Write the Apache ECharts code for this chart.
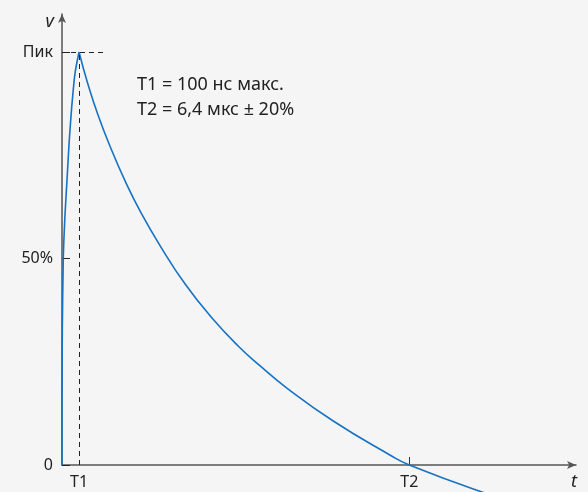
<!DOCTYPE html>
<html>
<head>
<meta charset="utf-8">
<script src="https://cdn.jsdelivr.net/npm/echarts@6/dist/echarts.min.js"></script>
<style>
html,body{margin:0;padding:0;background:#f5f5f5;}
#c{width:588px;height:492px;}
</style>
</head>
<body>
<div id="c"></div>
<script>
// x in % of T2, y in % of peak
const T1 = 4.9;
const T2 = 100;
const PEAK = 100;
const xTickValues = [T1, T2];
const xTickLabels = ['T1', 'T2'];
const yTickValues = [0, 50, 100];
const yTickLabels = ['0', '50%', 'Пик'];
const peakDashEnd = 12.4;

const riseX = [0, 0, 0.09, 0.37, 0.86, 1.44, 2.1, 2.8, 3.75, 4.9];
const riseY = [0, 15.7, 32.7, 50.1, 60.5, 69, 78.7, 86.7, 94.9, 100];

const decayX = [4.9, 7.49, 10.37, 14.12, 18.16, 22.77, 28.53, 35.45, 42.94, 50.72, 57.06, 64.84, 78.1, 94.52, 100, 121.33, 132];
const decayY = [100, 92.15, 84.77, 76.59, 68.79, 61.04, 52.71, 43.83, 35.84, 28.81, 23.99, 18.57, 10.65, 2.37, 0, -6.66, -9.4];

const noteLines = ['T1 = 100 нс макс.', 'T2 = 6,4 мкс ± 20%'];

const FONT = 'Noto Sans';
const LINE = '#1572c4';

const chart = echarts.init(document.getElementById('c'));
chart.setOption({
  backgroundColor: '#f5f5f5',
  animation: false,
  textStyle: {fontFamily: FONT},
  grid: {left: 62, right: 12, top: 14, bottom: 27, containLabel: false},
  xAxis: {
    type: 'value', min: 0, max: 148,
    name: 't', nameLocation: 'end', nameGap: -2,
    nameTextStyle: {fontStyle: 'italic', fontSize: 18, color: '#222', align: 'center', verticalAlign: 'top', padding: [8, 0, 0, 0], fontFamily: FONT},
    axisLine: {show: true, onZero: true, symbol: ['none', 'arrow'], symbolSize: [6, 9], lineStyle: {color: '#555', width: 1.5}},
    axisTick: {show: true, inside: true, length: 8, customValues: [T2], lineStyle: {color: '#333', width: 1}},
    axisLabel: {
      customValues: xTickValues, margin: 9, fontSize: 16, color: '#222', fontFamily: FONT,
      formatter: v => { const i = xTickValues.indexOf(v); return i >= 0 ? xTickLabels[i] : ''; }
    },
    splitLine: {show: false}
  },
  yAxis: {
    type: 'value', min: 0, max: 109.2,
    name: 'v', nameLocation: 'end', nameGap: -8,
    nameTextStyle: {fontStyle: 'italic', fontSize: 18, color: '#222', align: 'right', verticalAlign: 'middle', padding: [0, 8, 0, 0], fontFamily: FONT},
    axisLine: {show: true, symbol: ['none', 'arrow'], symbolSize: [6, 9], lineStyle: {color: '#555', width: 1.5}},
    axisTick: {show: true, inside: true, length: 8, customValues: yTickValues, lineStyle: {color: '#222', width: 1}},
    axisLabel: {
      customValues: yTickValues, margin: 9, fontSize: 16, color: '#222', fontFamily: FONT,
      formatter: v => { const i = yTickValues.indexOf(v); return i >= 0 ? yTickLabels[i] : ''; }
    },
    splitLine: {show: false}
  },
  graphic: [{
    type: 'text', left: 137, top: 72,
    style: {text: noteLines.join('\n'), font: '18px "Noto Sans"', fill: '#222', lineHeight: 25}
  }],
  series: [
    {
      type: 'line', data: riseX.map((x, i) => [x, riseY[i]]),
      smooth: 0.2, showSymbol: false, clip: false,
      lineStyle: {color: LINE, width: 1.6}, z: 3,
      markLine: {
        silent: true, symbol: 'none', label: {show: false},
        lineStyle: {color: '#222', type: [5, 4], width: 1},
        data: [
          [{coord: [T1, 0]}, {coord: [T1, PEAK]}],
          [{coord: [0, PEAK]}, {coord: [peakDashEnd, PEAK]}]
        ]
      }
    },
    {
      type: 'line', data: decayX.map((x, i) => [x, decayY[i]]),
      smooth: 0.5, showSymbol: false, clip: false,
      lineStyle: {color: LINE, width: 1.6}, z: 3
    }
  ]
});
</script>
</body>
</html>
